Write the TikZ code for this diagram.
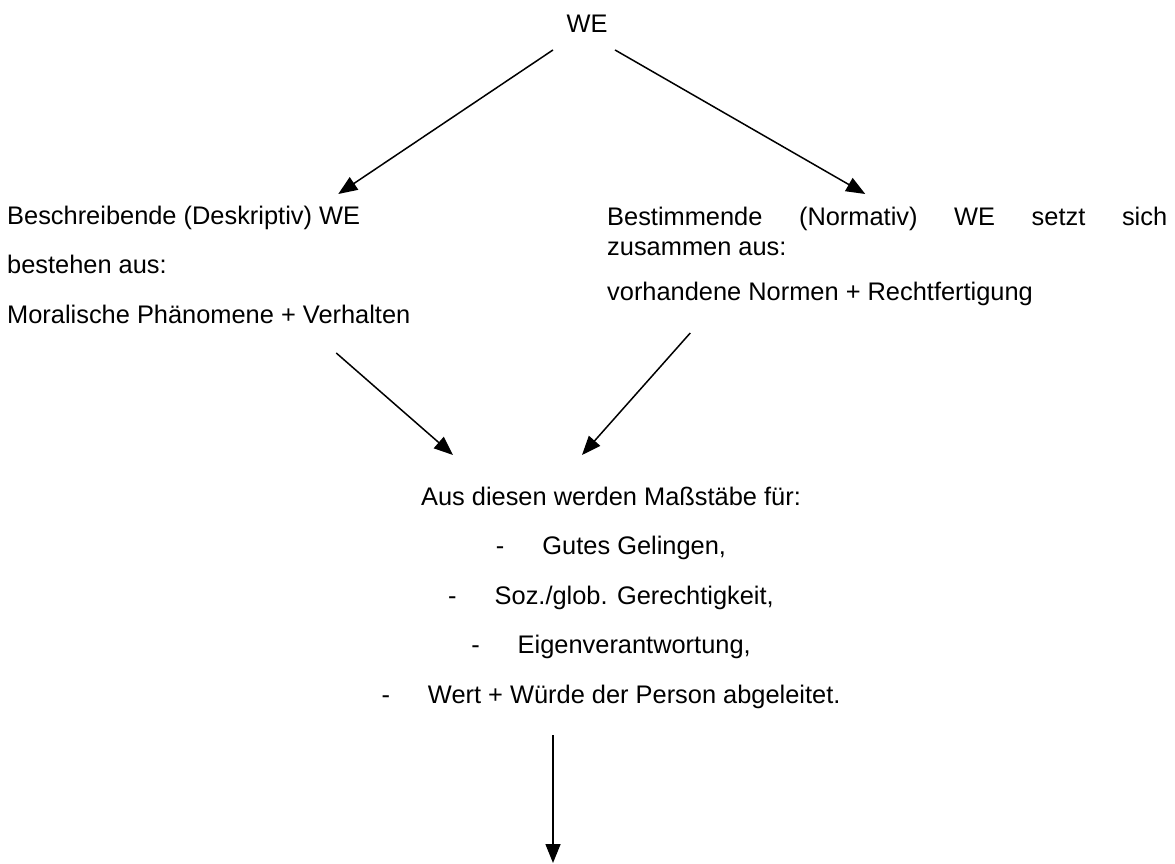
\documentclass[tikz,border=0pt]{standalone}
\usepackage{fontspec}
\setmainfont{Liberation Sans}
\usetikzlibrary{arrows.meta,calc}

\begin{document}
\begin{tikzpicture}[x=1pt,y=-1pt,
  txt/.style={inner sep=0.75pt,font=\fontsize{25.4}{49.5}\selectfont},
  arr/.style={line width=1.5pt,-{Triangle[length=19pt,width=15pt]}}]
\useasboundingbox (0,0) rectangle (1175,864); %set diagram size 1175 x 864

% Text Node
\node [txt,anchor=base] (we) at (587,33) {WE};
% Text Node
\node [txt,anchor=base west,align=left] (desc) at (6.25,323) {Beschreibende (Deskriptiv) WE\\bestehen aus:\\Moralische Phänomene + Verhalten};
% Text Node
\node [txt,anchor=base west,text width=560pt,align=justify,font=\fontsize{25.4}{30}\selectfont] (norm) at (606.25,225) {Bestimmende (Normativ) WE setzt sich \mbox{zusammen} aus:};
% Text Node
\node [txt,anchor=base west] (normpair) at (606.25,300) {vorhandene Normen + Rechtfertigung};
% Text Node
\node [txt,anchor=base,align=center] (mass) at (611,703) {Aus diesen werden Maßstäbe für:\\
  -\hspace{38pt}Gutes Gelingen,\\
  -\hspace{38pt}Soz./glob. Gerechtigkeit,\\
  -\hspace{38pt}Eigenverantwortung,\\
  -\hspace{38pt}Wert + Würde der Person abgeleitet.};
\coordinate (bottom) at (553,863);

%Straight Lines
\draw [arr] ($(we.south)+(-34,16)$) -- ($(desc.base west)+(332,-129)$);
\draw [arr] ($(we.south)+(28,16)$) -- ($(norm.base west)+(259,-31)$);
%Straight Lines
\draw [arr] ($(desc.base west)+(330,30)$) -- ($(mass.base)+(-158,-248)$);
\draw [arr] ($(normpair.base west)+(84,33)$) -- ($(mass.base)+(-29,-248)$);
%Straight Lines
\draw [arr] ($(mass.south)+(-58,26)$) -- (bottom);

\end{tikzpicture}
\end{document}
